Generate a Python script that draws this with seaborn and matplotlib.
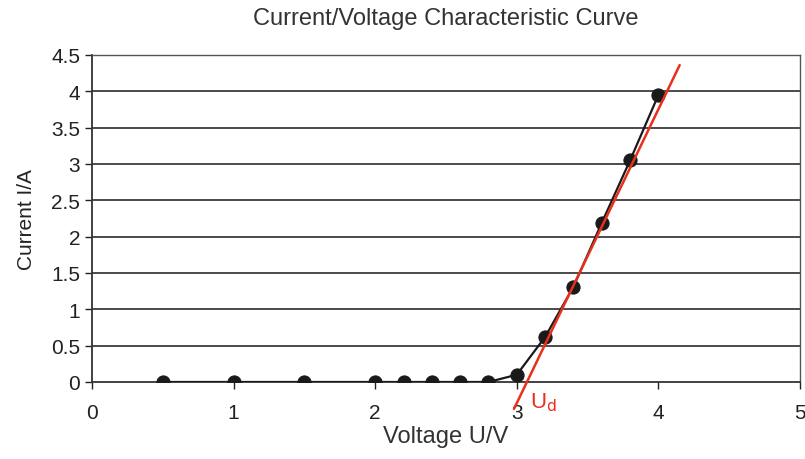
import numpy as np
import pandas as pd
import seaborn as sns
import matplotlib.pyplot as plt

# measured points
voltage = [0.5, 1.0, 1.5, 2.0, 2.2, 2.4, 2.6, 2.8, 3.0, 3.2, 3.4, 3.6, 3.8, 4.0]
current = [0, 0, 0, 0, 0, 0, 0, 0, 0.1, 0.62, 1.31, 2.19, 3.05, 3.95]

# tangent line endpoints
tangent_u = [2.98, 4.15]
tangent_i = [-0.37, 4.36]

x_ticks = [0, 1, 2, 3, 4, 5]
y_ticks = [0, 0.5, 1, 1.5, 2, 2.5, 3, 3.5, 4, 4.5]
y_labels = ["0", "0.5", "1", "1.5", "2", "2.5", "3", "3.5", "4", "4.5"]

sns.set_theme(style="white")
plt.rcParams['font.family'] = ['Liberation Sans Narrow', 'Liberation Sans', 'DejaVu Sans']

df = pd.DataFrame({"U": voltage, "I": current})
tan = pd.DataFrame({"U": tangent_u, "I": tangent_i})

fig = plt.figure(figsize=(8.05, 4.6), dpi=100)
ax = fig.add_axes([0.1143, 0.1674, 0.8795, 0.7109])

for y in y_ticks[1:]:
    ax.axhline(y, color="#1a1a1a", lw=1.1, zorder=1)

sns.lineplot(data=df, x="U", y="I", ax=ax, color="#1a1a1a", lw=1.6,
             marker="o", markersize=9.5, markeredgecolor="#1a1a1a", zorder=3)
red = "#e8301c"
sns.lineplot(data=tan, x="U", y="I", ax=ax, color=red, lw=1.8, zorder=4)
for ln in ax.lines[-1:]:
    ln.set_clip_on(False)

ax.text(3.09, -0.27, r"U$_{\rm d}$", color=red, fontsize=16, ha="left", va="center")

ax.set_xlim(0, 5)
ax.set_ylim(0, 4.5)
ax.set_xticks(x_ticks)
ax.set_yticks(y_ticks)
ax.set_yticklabels(y_labels)
ax.tick_params(axis="both", labelsize=15, colors="#222222", length=5, width=1, direction="out",
               left=True, bottom=True)
ax.tick_params(axis="x", pad=10)

for side in ["left", "bottom"]:
    ax.spines[side].set_color("#333333")
    ax.spines[side].set_linewidth(1.3)
for side in ["top", "right"]:
    ax.spines[side].set_color("#555555")
    ax.spines[side].set_linewidth(1.0)

ax.set_xlabel("Voltage U/V", fontsize=17, color="#333333", labelpad=2)
ax.set_ylabel("Current I/A", fontsize=15, color="#222222", labelpad=11)
ax.set_title("Current/Voltage Characteristic Curve", fontsize=17, color="#333333", pad=22)

fig.savefig("out.png", dpi=100)
